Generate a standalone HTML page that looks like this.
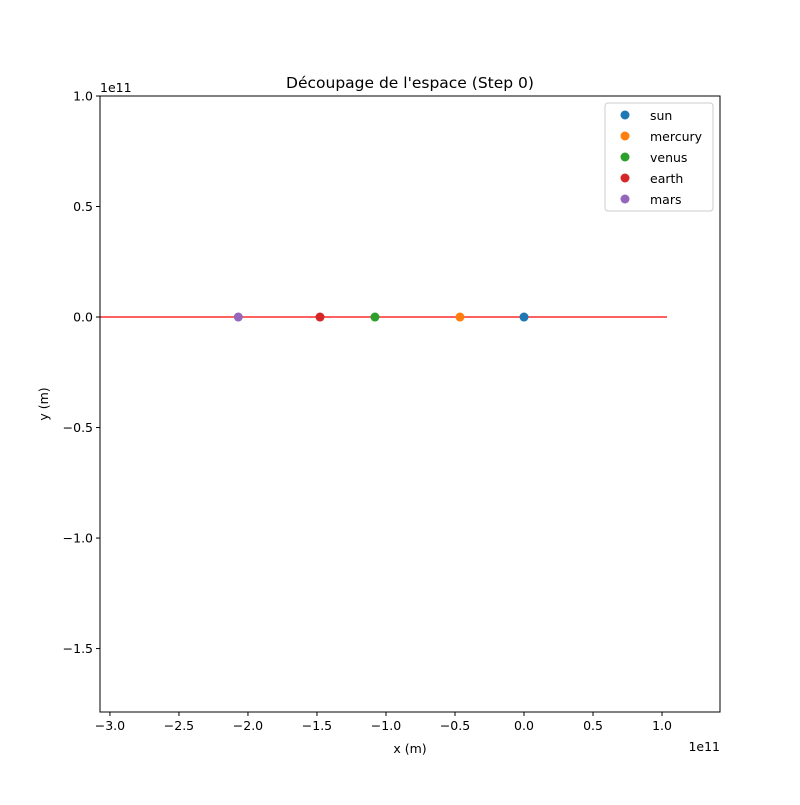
<!DOCTYPE html>
<html><head><meta charset="utf-8"><style>
body{margin:0;background:#fff}
text{font-family:"DejaVu Sans","Liberation Sans",sans-serif;font-size:12.5px;fill:#000}
</style></head><body>
<svg id="chart" width="800" height="800" xmlns="http://www.w3.org/2000/svg">
<rect width="800" height="800" fill="#fff"/>
<g id="g"></g>
</svg>
<script>
const names=["sun","mercury","venus","earth","mars"];
const xs=[0,-0.464,-1.08,-1.478,-2.07];
const ys=[0,0,0,0,0];
const colors=["#1f77b4","#ff7f0e","#2ca02c","#d62728","#9467bd"];
const xticks=[-3.0,-2.5,-2.0,-1.5,-1.0,-0.5,0.0,0.5,1.0];
const yticks=[1.0,0.5,0.0,-0.5,-1.0,-1.5];
const lineX=[-3.072,1.036];
const L=100,R=720,T=96,B=712;
const xMin=-3.072,xMax=1.42,yMin=-1.787,yMax=1.0;
const X=v=>L+(v-xMin)/(xMax-xMin)*(R-L);
const Y=v=>B-(v-yMin)/(yMax-yMin)*(B-T);
const g=document.getElementById('g');
const NS="http://www.w3.org/2000/svg";
function mk(t,a,txt){const e=document.createElementNS(NS,t);for(const k in a)e.setAttribute(k,a[k]);if(txt!==undefined)e.textContent=txt;g.appendChild(e);return e;}
const fmt=v=>v.toFixed(1).replace('-','\u2212');
let e;
e=mk('line',{x1:X(lineX[0]),x2:X(lineX[1]),y1:Y(0),y2:Y(0),stroke:'#ff0000','stroke-width':1.3});

names.forEach((n,i)=>{e=mk('circle',{cx:X(xs[i]),cy:Y(ys[i]),r:4.5,fill:colors[i]});
});
e=mk('rect',{x:L,y:T,width:R-L,height:B-T,fill:'none',stroke:'#000','stroke-width':1});

xticks.forEach(v=>{const x=X(v);mk('line',{x1:x,x2:x,y1:B,y2:B+4,stroke:'#000'});
e=mk('text',{x:x,y:B+18,'text-anchor':'middle'},fmt(v));});
yticks.forEach(v=>{const y=Y(v);mk('line',{x1:L-4,x2:L,y1:y,y2:y,stroke:'#000'});
e=mk('text',{x:L-7,y:y+4.5,'text-anchor':'end'},fmt(v));});
e=mk('text',{x:720,y:751,'text-anchor':'end'},'1e11');
e=mk('text',{x:100,y:92},'1e11');
e=mk('text',{x:410,y:753,'text-anchor':'middle'},'x (m)');
e=mk('text',{x:48,y:404,'text-anchor':'middle',transform:'rotate(-90 48 404)'},'y (m)');
e=mk('text',{x:410,y:88,'text-anchor':'middle',style:'font-size:15.5px'},"Découpage de l'espace (Step 0)");
e=mk('rect',{x:605,y:103,width:108,height:108,rx:3,fill:'#fff',stroke:'#ccc'});
names.forEach((n,i)=>{const y=115+i*21;mk('circle',{cx:625,cy:y,r:4.5,fill:colors[i]});
e=mk('text',{x:650,y:y+5},n);});
</script>
</body></html>
